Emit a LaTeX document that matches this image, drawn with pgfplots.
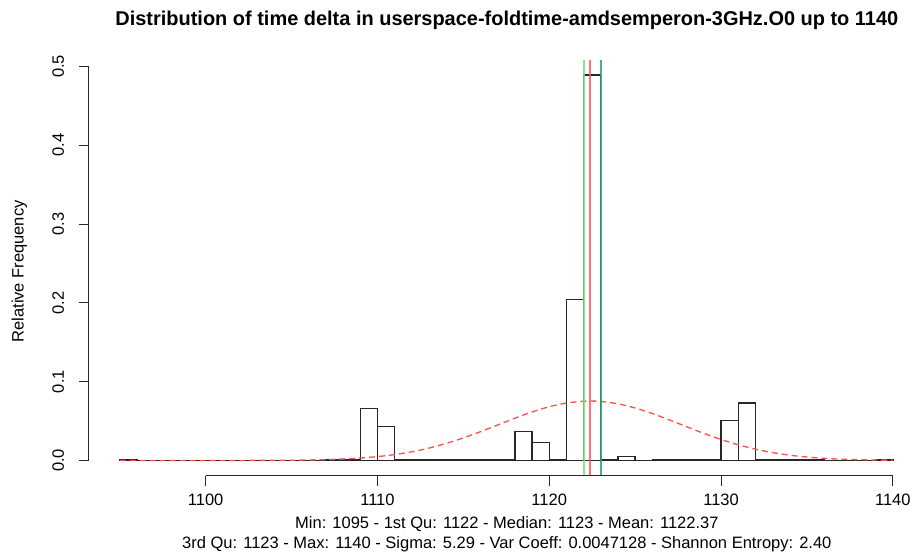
\documentclass[border=0pt]{standalone}
\usepackage{pgfplots}
\pgfplotsset{compat=1.18}
\usepackage{fontspec}
\setmainfont{Liberation Sans}
\definecolor{qone}{RGB}{120,225,120}
\definecolor{qthree}{RGB}{40,165,105}
\definecolor{meanred}{RGB}{255,80,80}
\definecolor{axisgray}{RGB}{40,40,40}
\begin{document}
\begin{tikzpicture}
% page frame, 915 x 557 px at 0.75pt per px
\path (0,0) rectangle (686.25pt,417.75pt);
\begin{axis}[
  at={(66.75pt,60pt)}, anchor=south west,
  scale only axis, width=619.5pt, height=312.75pt,
  xmin=1093.2, xmax=1141.17, ymin=-0.0196, ymax=0.5083,
  axis x line*=bottom, axis y line*=left,
  axis line style={draw=none},
  clip=false,
  tick align=outside, major tick length=7.5pt,
  tick style={axisgray, line width=0.75pt},
  xtick={1100,1110,1120,1130,1140},
  ytick={0,0.1,0.2,0.3,0.4,0.5},
  x tick label style={/pgf/number format/1000 sep={}, inner ysep=5.5pt},
  y tick label style={rotate=90, anchor=south, inner ysep=10.9pt,
    /pgf/number format/fixed, /pgf/number format/fixed zerofill,
    /pgf/number format/precision=1},
  /pgf/number format/assume math mode=true,
  tick label style={font=\fontsize{12.4}{14}\selectfont},
]
% histogram, bins of width 1
\addplot[ybar interval, fill=none, draw=axisgray, line width=1pt] coordinates {
 (1095,0.0008) (1096,0) (1097,0) (1098,0) (1099,0) (1100,0) (1101,0) (1102,0)
 (1103,0) (1104,0) (1105,0) (1106,0) (1107,0.0005) (1108,0.0005)
 (1109,0.066) (1110,0.043) (1111,0.001) (1112,0.001) (1113,0.0005)
 (1114,0.0005) (1115,0.0005) (1116,0.0005) (1117,0.0005)
 (1118,0.037) (1119,0.023) (1120,0.0015) (1121,0.204) (1122,0.489)
 (1123,0.0005) (1124,0.005) (1125,0) (1126,0.001) (1127,0.001)
 (1128,0.001) (1129,0.001) (1130,0.051) (1131,0.073) (1132,0.001)
 (1133,0.0005) (1134,0.0005) (1135,0.0005) (1136,0) (1137,0) (1138,0)
 (1139,0.0005) (1140,0.0005)
};
% normal curve (mean 1122.37, sigma 5.29)
\addplot[meanred, line width=1pt, dash pattern=on 4.5pt off 3pt, smooth] coordinates {
 (1095,0) (1100,0.00001) (1102,0.00005) (1104,0.00018) (1105,0.00034)
 (1106,0.00063) (1107,0.0011) (1108,0.0019) (1109,0.0031) (1110,0.0049)
 (1111,0.0075) (1112,0.0110) (1113,0.0157) (1114,0.0216) (1115,0.0286)
 (1116,0.0365) (1117,0.0450) (1118,0.0536) (1119,0.0615) (1120,0.0682)
 (1121,0.0729) (1122,0.0752) (1122.37,0.0754) (1123,0.0749) (1124,0.0719)
 (1125,0.0666) (1126,0.0596) (1127,0.0514) (1128,0.0428) (1129,0.0344)
 (1130,0.0266) (1131,0.0199) (1132,0.0144) (1133,0.0100) (1134,0.0067)
 (1135,0.0044) (1136,0.0027) (1137,0.0016) (1138,0.0010) (1139,0.0006)
 (1140,0.0003)
};
% 1st quartile, mean, 3rd quartile
\addplot[qone, line width=1.5pt, opacity=0.85] coordinates {(1122,-0.0196) (1122,0.5083)};
\addplot[meanred, line width=1.3pt, opacity=0.8] coordinates {(1122.37,-0.0196) (1122.37,0.5083)};
\addplot[qthree, line width=1.5pt, opacity=0.85] coordinates {(1123,-0.0196) (1123,0.5083)};
% R-style axis lines
\draw[axisgray, line width=0.75pt] (axis cs:1100,-0.0196) -- (axis cs:1140,-0.0196);
\draw[axisgray, line width=0.75pt] (axis cs:1093.2,0) -- (axis cs:1093.2,0.5);
\end{axis}
\node[font=\bfseries\fontsize{15}{18}\selectfont] at (381pt,402.75pt)
  {Distribution of time delta in userspace-foldtime-amdsemperon-3GHz.O0 up to 1140};
\node[rotate=90, font=\fontsize{12.4}{14}\selectfont] at (14.6pt,213.75pt) {Relative Frequency};
\node[font=\fontsize{12.4}{14}\selectfont] at (381pt,23.5pt)
  {Min: 1095 - 1st Qu: 1122 - Median: 1123 - Mean: 1122.37};
\node[font=\fontsize{12.4}{14}\selectfont] at (381pt,8.5pt)
  {3rd Qu: 1123 - Max: 1140 - Sigma: 5.29 - Var Coeff: 0.0047128 - Shannon Entropy: 2.40};
\end{tikzpicture}
\end{document}
